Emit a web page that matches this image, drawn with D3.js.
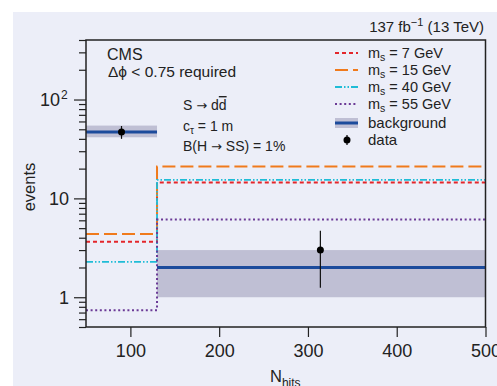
<!DOCTYPE html>
<html>
<head>
<meta charset="utf-8">
<script src="https://cdn.jsdelivr.net/npm/d3@7"></script>
<style>
  body { margin: 0; background: #fff; }
  text { font-family: "Liberation Sans", Arial, sans-serif; fill: #222; }
  .arrow { font-family: "DejaVu Sans", sans-serif; }
</style>
</head>
<body>
<svg id="chart" width="497" height="386"></svg>
<script>
// bin edges in N_hits
const binEdges = [50, 130, 500]

// background prediction per bin, with its uncertainty band
const bkgValues = [47, 2]
const bkgLow = [41.5, 1]
const bkgHigh = [54.5, 3]

// observed data
const dataX = [90, 314]
const dataY = [47, 3]
const dataLow = [40, 1.25]
const dataHigh = [54, 4.7]

// signal expectations per bin
const signalLabels = ['7', '15', '40', '55']
const signal7 = [3.65, 14.5]
const signal15 = [4.35, 21]
const signal40 = [2.28, 15.4]
const signal55 = [0.74, 6.1]

const xTicks = [100, 200, 300, 400, 500]

const svg = d3.select('#chart')

// lavender page background
svg.append('rect')
  .attr('x', 13).attr('y', 12)
  .attr('width', 497 - 13).attr('height', 386 - 12)
  .attr('fill', '#eceef8')

const plotLeft = 86
const plotRight = 485.5
const plotTop = 40
const plotBottom = 327

const x = d3.scaleLinear().domain([50, 500]).range([plotLeft, plotRight])
const y = d3.scaleLog().domain([0.5, 400]).range([plotBottom, plotTop])

const g = svg.append('g')

// background band
g.selectAll('.band')
  .data(bkgValues)
  .enter()
  .append('rect')
  .attr('class', 'band')
  .attr('x', (d, i) => x(binEdges[i]))
  .attr('width', (d, i) => x(binEdges[i + 1]) - x(binEdges[i]))
  .attr('y', (d, i) => y(bkgHigh[i]))
  .attr('height', (d, i) => y(bkgLow[i]) - y(bkgHigh[i]))
  .attr('fill', '#bfbfd4')

// background central value
g.selectAll('.bkg')
  .data(bkgValues)
  .enter()
  .append('line')
  .attr('class', 'bkg')
  .attr('x1', (d, i) => x(binEdges[i]))
  .attr('x2', (d, i) => x(binEdges[i + 1]))
  .attr('y1', d => y(d))
  .attr('y2', d => y(d))
  .attr('stroke', '#1c4b9c')
  .attr('stroke-width', 3)

// signal step lines
const signals = [
  { vals: signal7, color: '#e3262b', dash: '4,3', width: 2 },
  { vals: signal15, color: '#f07a1c', dash: '13,5', width: 2 },
  { vals: signal40, color: '#1fbcd6', dash: '7,2,1.5,2,1.5,2', width: 1.8 },
  { vals: signal55, color: '#6b3a96', dash: '2,2.6', width: 2 }
]

const stepLine = d3.line()
  .x(d => x(d[0]))
  .y(d => y(d[1]))
  .curve(d3.curveStepAfter)

signals.forEach(s => {
  const pts = binEdges.map((e, i) => [e, s.vals[Math.min(i, s.vals.length - 1)]])
  g.append('path')
    .attr('d', stepLine(pts))
    .attr('fill', 'none')
    .attr('stroke', s.color)
    .attr('stroke-width', s.width)
    .attr('stroke-dasharray', s.dash)
})

// data points
g.selectAll('.err')
  .data(dataY)
  .enter()
  .append('line')
  .attr('x1', (d, i) => x(dataX[i]))
  .attr('x2', (d, i) => x(dataX[i]))
  .attr('y1', (d, i) => y(dataHigh[i]))
  .attr('y2', (d, i) => y(dataLow[i]))
  .attr('stroke', '#111')
  .attr('stroke-width', 1.2)

g.selectAll('.pt')
  .data(dataY)
  .enter()
  .append('circle')
  .attr('cx', (d, i) => x(dataX[i]))
  .attr('cy', d => y(d))
  .attr('r', 3.5)
  .attr('fill', '#000')

// axes
const yTicks = []
for (let dec = 0.1; dec < 1000; dec *= 10) {
  for (let k = 1; k < 10; k++) {
    const v = +(dec * k).toPrecision(3)
    if (v >= 0.5 && v <= 400) yTicks.push(v)
  }
}

const yAxis = g.append('g')
  .attr('transform', `translate(${plotLeft},0)`)
  .call(d3.axisLeft(y).tickValues(yTicks).tickSize(7).tickFormat(''))
yAxis.select('.domain').remove()
yAxis.selectAll('.tick')
  .filter(d => [1, 10, 100].includes(d))
  .select('line').attr('x2', -12)
yAxis.selectAll('line').attr('stroke', '#222').attr('stroke-width', 1.2)

const yLabels = [{ v: 1, base: '1' }, { v: 10, base: '10' }, { v: 100, base: '10', sup: '2' }]
yLabels.forEach(l => {
  g.append('text')
    .attr('x', l.sup ? 60 : 69)
    .attr('y', y(l.v) + 6.5)
    .attr('text-anchor', 'end')
    .attr('font-size', 18)
    .text(l.base)
  if (l.sup) {
    g.append('text').attr('x', 61).attr('y', y(l.v) - 1)
      .attr('font-size', 12).text(l.sup)
  }
})

const xAxis = g.append('g')
  .attr('transform', `translate(0,${plotBottom})`)
  .call(d3.axisBottom(x).tickValues(xTicks).tickSize(10).tickPadding(7).tickFormat(d3.format('d')))
xAxis.select('.domain').remove()
xAxis.selectAll('line').attr('stroke', '#222').attr('stroke-width', 1.2)
xAxis.selectAll('text')
  .attr('font-size', 18)
  .attr('fill', '#222')
  .style('font-family', '"Liberation Sans", Arial, sans-serif')

// frame
g.append('rect')
  .attr('x', plotLeft).attr('y', plotTop)
  .attr('width', plotRight - plotLeft).attr('height', plotBottom - plotTop)
  .attr('fill', 'none')
  .attr('stroke', '#222')
  .attr('stroke-width', 1.5)

// axis titles
svg.append('text')
  .attr('transform', 'translate(35,187) rotate(-90)')
  .attr('text-anchor', 'middle')
  .attr('font-size', 16.5)
  .text('events')

const xt = svg.append('text').attr('x', 270).attr('y', 382).attr('font-size', 16.5)
xt.append('tspan').text('N')
xt.append('tspan').attr('font-size', 12).attr('dy', 5).text('hits')

// lumi label
const lumi = svg.append('text').attr('x', 484).attr('y', 32)
  .attr('text-anchor', 'end').attr('font-size', 15)
lumi.append('tspan').text('137 fb')
lumi.append('tspan').attr('font-size', 11).attr('dy', -6).text('−1')
lumi.append('tspan').attr('dy', 6).text(' (13 TeV)')

// annotations
svg.append('text').attr('x', 107).attr('y', 60).attr('font-size', 16).text('CMS')
svg.append('text').attr('x', 108).attr('y', 77).attr('font-size', 15.5).text('Δϕ < 0.75 required')

svg.append('text').attr('x', 183).attr('y', 110).attr('font-size', 14)
  .html('S <tspan class="arrow" font-size="13">→</tspan> d<tspan text-decoration="overline">d</tspan>')
const ct = svg.append('text').attr('x', 183).attr('y', 131).attr('font-size', 14)
ct.append('tspan').text('c')
ct.append('tspan').attr('font-size', 10).attr('dy', 3).text('τ')
ct.append('tspan').attr('dy', -3).text(' = 1 m')
svg.append('text').attr('x', 183).attr('y', 151).attr('font-size', 14)
  .html('B(H <tspan class="arrow" font-size="13">→</tspan> SS) = 1%')

// legend
const legY = [53, 70, 87, 104, 123, 140]
const lx1 = 335
const lx2 = 358
const tx = 368

signals.forEach((s, i) => {
  svg.append('line')
    .attr('x1', lx1).attr('x2', lx2)
    .attr('y1', legY[i]).attr('y2', legY[i])
    .attr('stroke', s.color)
    .attr('stroke-width', s.width)
    .attr('stroke-dasharray', s.dash)
  const t = svg.append('text').attr('x', tx).attr('y', legY[i] + 5).attr('font-size', 14.5)
  t.append('tspan').text('m')
  t.append('tspan').attr('font-size', 10.5).attr('dy', 3).text('s')
  t.append('tspan').attr('dy', -3).text(` = ${signalLabels[i]} GeV`)
})

svg.append('rect')
  .attr('x', lx1).attr('y', legY[4] - 5)
  .attr('width', lx2 - lx1).attr('height', 10)
  .attr('fill', '#bfbfd4')
svg.append('line')
  .attr('x1', lx1).attr('x2', lx2)
  .attr('y1', legY[4]).attr('y2', legY[4])
  .attr('stroke', '#1c4b9c').attr('stroke-width', 3)
svg.append('text').attr('x', tx).attr('y', legY[4] + 5).attr('font-size', 15).text('background')

svg.append('circle').attr('cx', 347).attr('cy', legY[5]).attr('r', 3.5).attr('fill', '#000')
svg.append('line').attr('x1', 347).attr('x2', 347)
  .attr('y1', legY[5] - 5).attr('y2', legY[5] + 5)
  .attr('stroke', '#000').attr('stroke-width', 1.2)
svg.append('text').attr('x', tx).attr('y', legY[5] + 5).attr('font-size', 15).text('data')
</script>
</body>
</html>
